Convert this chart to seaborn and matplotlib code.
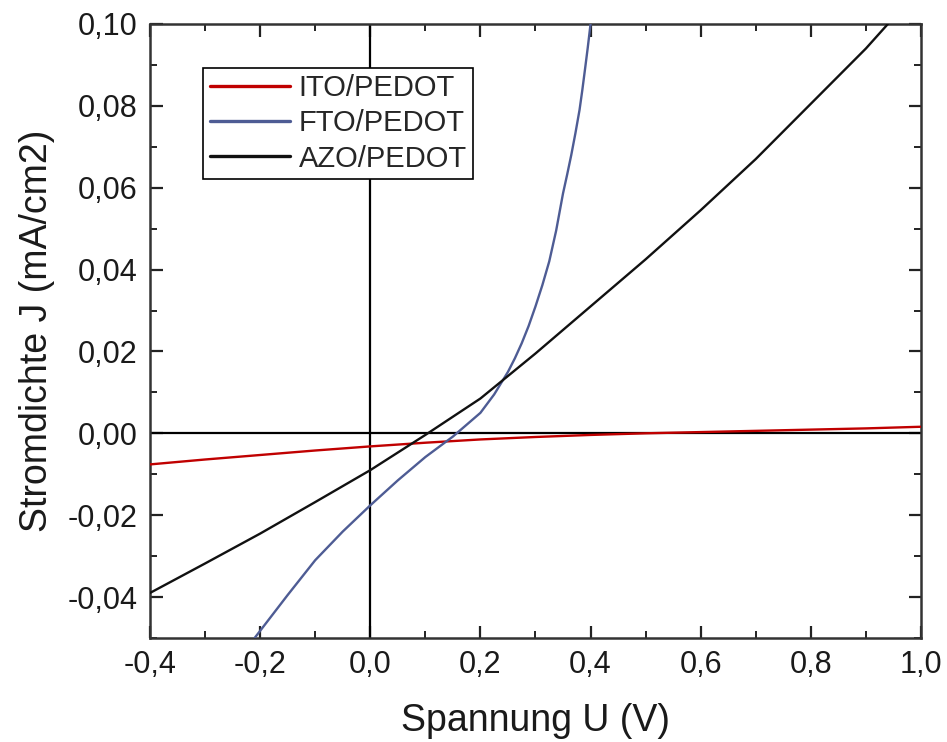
import numpy as np
import pandas as pd
import matplotlib
matplotlib.use("Agg")
import matplotlib.pyplot as plt
from matplotlib.ticker import MultipleLocator, FuncFormatter
import seaborn as sns

# J-U characteristics of the three electrode stacks
u_ito = [-0.4, -0.3, -0.2, -0.1, 0.0, 0.1, 0.2, 0.3, 0.4, 0.5, 0.6, 0.7, 0.8, 0.9, 1.0]
j_ito = [-0.0076, -0.0064, -0.0053, -0.0042, -0.0032, -0.0023, -0.0015, -0.0009,
         -0.0004, 0.0000, 0.0003, 0.0006, 0.0009, 0.0012, 0.0016]

u_fto = [-0.21, -0.15, -0.10, -0.05, 0.00, 0.05, 0.10, 0.15, 0.20, 0.225, 0.25,
         0.2625, 0.275, 0.2875, 0.30, 0.3125, 0.325, 0.3375, 0.35, 0.3575, 0.365,
         0.3725, 0.38, 0.385, 0.39, 0.395, 0.40]
j_fto = [-0.0500, -0.0395, -0.0310, -0.0240, -0.0176, -0.0115, -0.0058, -0.0008,
         0.0050, 0.0095, 0.0150, 0.0183, 0.0220, 0.0262, 0.0310, 0.0362, 0.0420,
         0.0495, 0.0586, 0.0632, 0.0680, 0.0733, 0.0790, 0.0838, 0.0890, 0.0943,
         0.1000]

u_azo = [-0.4, -0.3, -0.2, -0.1, 0.0, 0.1, 0.2, 0.3, 0.4, 0.5, 0.6, 0.7, 0.8, 0.9, 0.94]
j_azo = [-0.0390, -0.0318, -0.0245, -0.0168, -0.0090, -0.0004, 0.0085, 0.0195,
         0.0310, 0.0425, 0.0545, 0.0670, 0.0805, 0.0940, 0.1000]

labels = ["ITO/PEDOT", "FTO/PEDOT", "AZO/PEDOT"]
colors = ["#C00000", "#4E5C94", "#111111"]

df = pd.concat([
    pd.DataFrame({"U": u_ito, "J": j_ito, "Probe": labels[0]}),
    pd.DataFrame({"U": u_fto, "J": j_fto, "Probe": labels[1]}),
    pd.DataFrame({"U": u_azo, "J": j_azo, "Probe": labels[2]}),
], ignore_index=True)

sns.set_theme(style="white")
plt.rcParams["font.family"] = ["Liberation Sans", "DejaVu Sans"]

fig = plt.figure(figsize=(9.47, 7.42), dpi=100)
ax = fig.add_axes([0.1584, 0.1402, 0.8141, 0.8275])

# zero reference lines
ax.axhline(0, color="black", lw=1.6, zorder=1)
ax.axvline(0, color="black", lw=1.6, zorder=1)

sns.lineplot(data=df, x="U", y="J", hue="Probe", hue_order=labels,
             palette=dict(zip(labels, colors)), sort=False, lw=1.7,
             ax=ax, zorder=3)

ax.set_xlim(-0.4, 1.0)
ax.set_ylim(-0.05, 0.10)

ax.xaxis.set_major_locator(MultipleLocator(0.2))
ax.xaxis.set_minor_locator(MultipleLocator(0.1))
ax.yaxis.set_major_locator(MultipleLocator(0.02))
ax.yaxis.set_minor_locator(MultipleLocator(0.01))
ax.xaxis.set_major_formatter(FuncFormatter(lambda v, p: f"{v:.1f}".replace(".", ",").replace("-0,0", "0,0")))
ax.yaxis.set_major_formatter(FuncFormatter(lambda v, p: f"{v:.2f}".replace(".", ",").replace("-0,00", "0,00")))

ax.tick_params(which="both", direction="in", top=True, right=True,
               bottom=True, left=True, color="#222222")
ax.tick_params(which="major", length=9, width=1.6, labelsize=22,
               labelcolor="#1a1a1a", pad=9)
ax.tick_params(which="minor", length=5, width=1.4)

for s in ax.spines.values():
    s.set_color("#333333")
    s.set_linewidth(1.8)

ax.set_xlabel("Spannung U (V)", fontsize=27, color="#1a1a1a", labelpad=16)
ax.set_ylabel("Stromdichte J (mA/cm2)", fontsize=27, color="#1a1a1a", labelpad=9)

leg = ax.legend(loc="upper left", bbox_to_anchor=(0.069, 0.929),
                fontsize=21, frameon=True, fancybox=False, edgecolor="black",
                framealpha=1, handlelength=2.75, handletextpad=0.3,
                labelspacing=0.25, borderpad=0.22, borderaxespad=0)
leg.get_frame().set_linewidth(1.2)
for line in leg.get_lines():
    line.set_linewidth(2.4)

fig.savefig("out.png", dpi=100)
